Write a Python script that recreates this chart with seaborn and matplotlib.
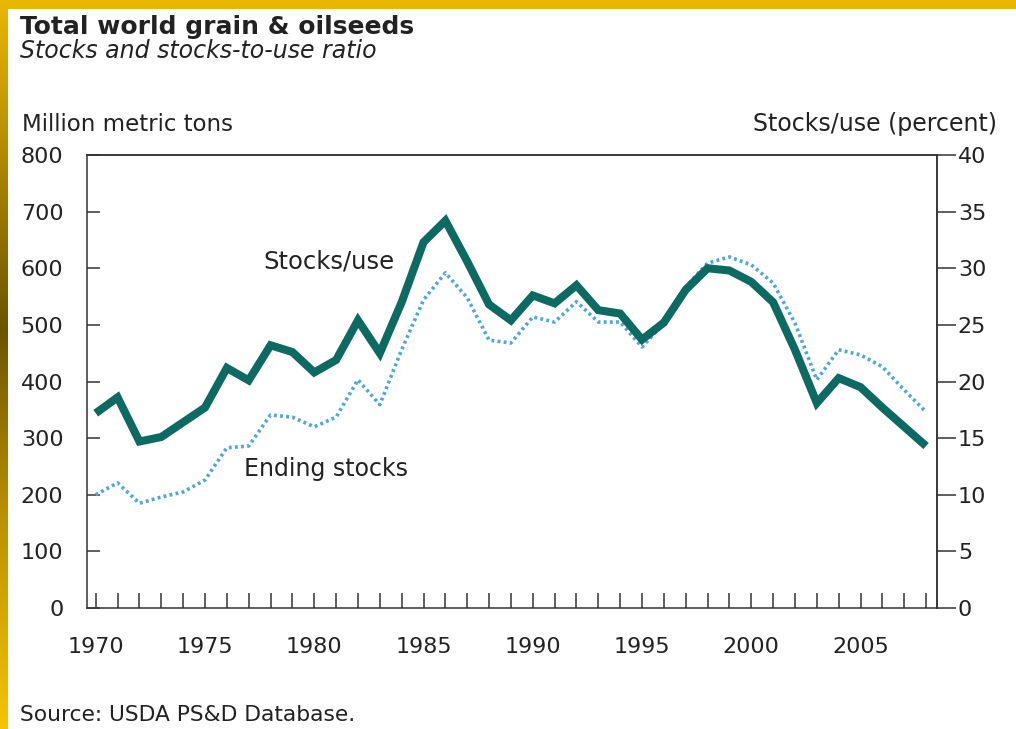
import numpy as np
import pandas as pd
import matplotlib
matplotlib.use("Agg")
import matplotlib.pyplot as plt
import seaborn as sns

years = list(range(1970, 2009))
stocks_use_pct = [17.2, 18.6, 14.7, 15.1, 16.4, 17.7, 21.2, 20.1, 23.2, 22.6,
                  20.8, 21.9, 25.4, 22.5, 27.0, 32.3, 34.2, 30.6, 26.8, 25.4,
                  27.6, 26.9, 28.5, 26.3, 26.0, 23.7, 25.2, 28.1, 30.0, 29.8,
                  28.8, 27.0, 22.8, 18.1, 20.3, 19.5, 17.7, 16.0, 14.3]
ending_stocks_mmt = [200, 221, 185, 196, 205, 226, 283, 286, 341, 337,
                     320, 337, 403, 359, 456, 544, 592, 548, 473, 468,
                     514, 505, 541, 505, 505, 461, 503, 567, 609, 620,
                     606, 574, 503, 403, 456, 447, 426, 385, 346]
left_ticks = [0, 100, 200, 300, 400, 500, 600, 700, 800]
right_ticks = [0, 5, 10, 15, 20, 25, 30, 35, 40]
label_years = [1970, 1975, 1980, 1985, 1990, 1995, 2000, 2005]

df = pd.DataFrame({"year": years, "stocks_use": stocks_use_pct,
                   "ending": ending_stocks_mmt})

sns.set_style("white")
plt.rcParams["font.family"] = ["DejaVu Sans"]

TXT = "#222222"
SPINE = "#333333"
TEAL = "#0d6a62"
DOT = "#52a8cf"

W, H = 1016, 729
fig = plt.figure(figsize=(W / 100, H / 100), dpi=100)
fig.patch.set_facecolor("white")

def fx(px):
    return px / W

def fy(py):
    return 1 - py / H

ax = fig.add_axes([fx(87), fy(608), fx(937) - fx(87), fy(155) - fy(608)])
ax2 = ax.twinx()

sns.lineplot(data=df, x="year", y="ending", ax=ax, color=DOT, lw=2.6,
             linestyle=(0, (0.8, 0.9)), legend=False)
sns.lineplot(data=df, x="year", y="stocks_use", ax=ax2, color=TEAL, lw=5.8,
             legend=False)
for ln in ax2.lines:
    ln.set_solid_capstyle("butt")
    ln.set_solid_joinstyle("miter")

ax.set_xlim(1969.6, 2008.5)
ax.set_ylim(0, 800)
ax2.set_ylim(0, 40)
ax.set_xlabel("")
ax.set_ylabel("")
ax2.set_ylabel("")

ax.set_xticks(years)
ax.set_xticklabels([str(y) if y in label_years else "" for y in years])
ax.set_yticks(left_ticks)
ax.set_yticklabels([str(v) for v in left_ticks])
ax2.set_yticks(right_ticks)
ax2.set_yticklabels([str(v) for v in right_ticks])

ax.tick_params(axis="x", direction="in", length=11, width=1.1, color=SPINE,
               pad=21, labelsize=16, labelcolor=TXT, bottom=True, top=False)
ax.tick_params(axis="y", direction="in", length=9, width=1.1, color=SPINE,
               pad=17, labelsize=16, labelcolor=TXT, left=True, right=False)
ax2.tick_params(axis="y", direction="out", length=14, width=1.1, color=SPINE,
                pad=1, labelsize=16, labelcolor=TXT, right=True, left=False)

for a in (ax, ax2):
    for s in a.spines.values():
        s.set_visible(True)
        s.set_color(SPINE)
        s.set_linewidth(1.1)
ax2.spines["left"].set_visible(False)
ax2.spines["bottom"].set_visible(False)
ax.grid(False)
ax2.grid(False)

ax.text(1977.65, 599, "Stocks/use", fontsize=17.5, color=TXT, va="baseline",
        ha="left")
ax.text(1976.8, 233, "Ending stocks", fontsize=17, color=TXT, va="baseline",
        ha="left")

fig.text(fx(20), fy(34), "Total world grain & oilseeds", fontsize=18,
         fontweight="bold", color=TXT, va="baseline", ha="left")
fig.text(fx(20), fy(58), "Stocks and stocks-to-use ratio", fontsize=17,
         fontstyle="italic", color=TXT, va="baseline", ha="left")
fig.text(fx(22), fy(131), "Million metric tons", fontsize=16.5, color=TXT,
         va="baseline", ha="left")
fig.text(fx(997), fy(131), "Stocks/use (percent)", fontsize=17, color=TXT,
         va="baseline", ha="right")
fig.text(fx(20), fy(721), "Source: USDA PS&D Database.", fontsize=15.7,
         color=TXT, va="baseline", ha="left")

# decorative border: gold strip on top, gradient strip on the left
top = fig.add_axes([0, fy(9), 1, fy(0) - fy(9)])
top.set_facecolor("#e8b800")
top.set_xticks([])
top.set_yticks([])
for s in top.spines.values():
    s.set_visible(False)

left = fig.add_axes([0, 0, fx(8), 1])
grad_pos = [0.0, 0.12, 0.45, 0.7, 1.0]
grad_col = [(0.91, 0.72, 0.0), (0.80, 0.62, 0.0), (0.42, 0.33, 0.0),
            (0.72, 0.56, 0.0), (0.96, 0.77, 0.0)]
n = 400
t = np.linspace(0, 1, n)
img = np.zeros((n, 1, 3))
for c in range(3):
    img[:, 0, c] = np.interp(t, grad_pos, [g[c] for g in grad_col])
left.imshow(img, aspect="auto", extent=[0, 1, 0, 1])
left.set_axis_off()

fig.savefig("out.png", dpi=100, facecolor="white")
